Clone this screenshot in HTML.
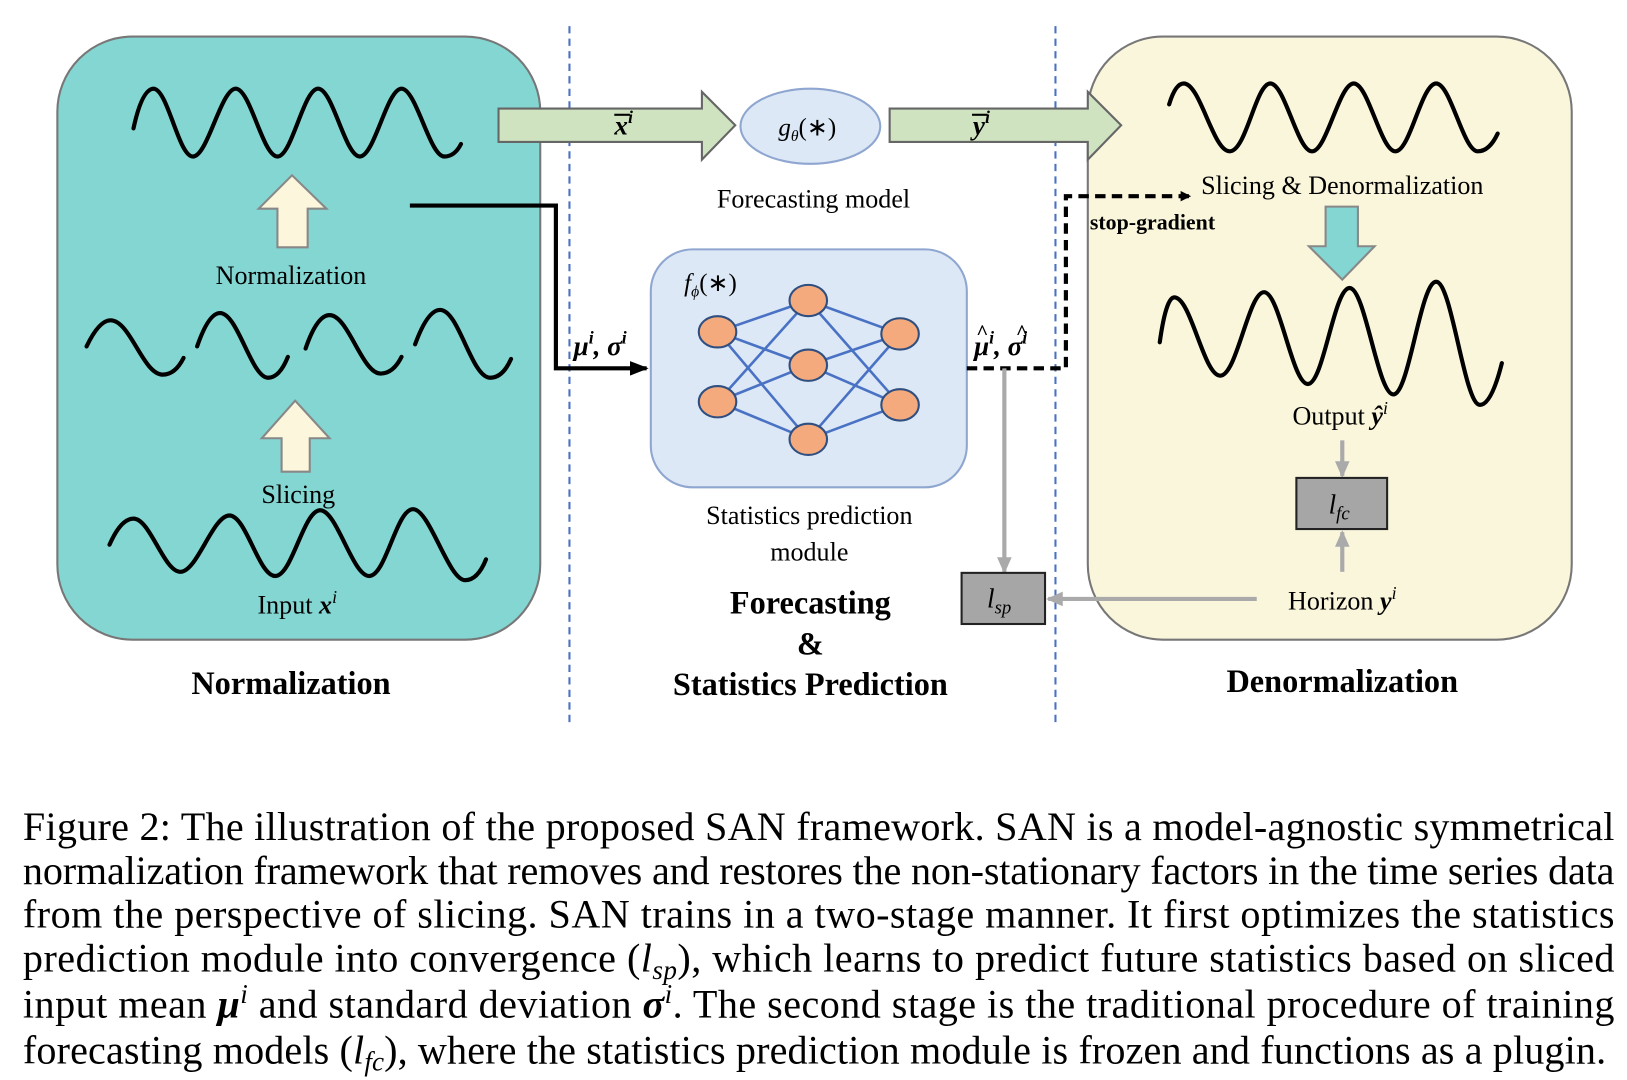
<!DOCTYPE html>
<html><head><meta charset="utf-8"><style>
html,body{margin:0;padding:0;background:#fff;}
svg{display:block;}
text{font-family:"Liberation Serif",serif;}
</style></head><body>
<svg width="1627" height="1080" viewBox="0 0 1560 1035" preserveAspectRatio="none" xmlns="http://www.w3.org/2000/svg">
<defs>
<marker id="ab" markerWidth="10" markerHeight="10" refX="8" refY="5" orient="auto" markerUnits="userSpaceOnUse"><path d="M0,0 L10,5 L0,10 z" fill="#000"/></marker>
<marker id="ag" markerWidth="16" markerHeight="14" refX="14" refY="7" orient="auto" markerUnits="userSpaceOnUse"><path d="M0,0 L16,7 L0,14 z" fill="#aaa"/></marker>
<marker id="ak" markerWidth="18" markerHeight="14" refX="16" refY="7" orient="auto" markerUnits="userSpaceOnUse"><path d="M0,0 L18,7 L0,14 z" fill="#000"/></marker>
</defs>
<rect x="55" y="35" width="463" height="578" rx="72" fill="#84d6d2" stroke="#777" stroke-width="2"/>
<rect x="1043" y="35" width="464" height="578" rx="72" fill="#faf6dc" stroke="#777" stroke-width="2"/>
<line x1="546" y1="25" x2="546" y2="692" stroke="#4a72c4" stroke-width="2" stroke-dasharray="7,5"/>
<line x1="1012" y1="25" x2="1012" y2="692" stroke="#4a72c4" stroke-width="2" stroke-dasharray="7,5"/>

<g fill="none" stroke="#000" stroke-width="4" stroke-linecap="round">
<path d="M128,123 Q136,86 147,85 C161,85 171,150 185,150 S212,85 226,85 S252,150 266,150 S291,85 305,85 S331,150 345,150 S371,85 385,85 S412,150 426,150 Q436,150 442,138"/>
<path d="M83,332 Q95,307 106,307 C125,307 137,359 156,359 Q168,359 176,343"/>
<path d="M189,332 Q200,300 211,300 C228,300 241,362 257,362 Q268,362 276,342"/>
<path d="M293,334 Q304,302 316,302 C334,302 347,358 365,358 Q377,358 385,342"/>
<path d="M398,330 Q410,297 422,297 C440,297 452,362 470,362 Q482,362 490,344"/>
<path d="M105,522 Q116,497 128,497 C144,497 157,548 173,548 S204,494 220,494 S248,552 264,552 S291,489 307,489 S338,552 354,552 S380,488 396,488 S430,556 446,556 Q458,556 466,536"/>
<path d="M1121,100 Q1127,80 1135,80 C1151,80 1163,145 1179,145 S1204,80 1218,80 S1244,145 1258,145 S1284,80 1298,80 S1324,145 1338,145 S1363,80 1377,80 S1403,145 1417,145 Q1428,145 1436,128"/>
<path d="M1112,328 Q1118,285 1126,285 C1142,285 1154,360 1170,360 S1197,280 1212,280 S1239,368 1254,368 S1279,276 1294,276 S1321,378 1336,378 S1362,270 1377,270 S1404,388 1419,388 Q1430,388 1440,348"/>
</g>

<polygon points="266,237 295,237 295,200 313,200 280,168 248,200 266,200" fill="#fbf6dc" stroke="#888" stroke-width="2"/>
<polygon points="270,452 297,452 297,420 316,420 283,384 251,420 270,420" fill="#fbf6dc" stroke="#888" stroke-width="2"/>
<polygon points="1271,198 1302,198 1302,236 1318,236 1287,268 1255,236 1271,236" fill="#84d6d2" stroke="#888" stroke-width="2"/>

<text x="279" y="272" font-size="25" text-anchor="middle">Normalization</text>
<text x="286" y="482" font-size="25" text-anchor="middle">Slicing</text>
<text x="285" y="588" font-size="25" text-anchor="middle">Input <tspan font-weight="bold" font-style="italic">x</tspan><tspan font-size="17" dy="-10" font-style="italic">i</tspan></text>

<polygon points="478,104 673,104 673,88 705,120 673,153 673,136 478,136" fill="#cfe3c1" stroke="#666" stroke-width="2"/>
<polygon points="853,104 1043,104 1043,88 1075,120 1043,153 1043,136 853,136" fill="#cfe3c1" stroke="#666" stroke-width="2"/>
<text x="598" y="129" font-size="26" font-weight="bold" font-style="italic" text-anchor="middle">x<tspan font-size="17" dy="-11">i</tspan></text>
<line x1="589" y1="110" x2="604" y2="110" stroke="#000" stroke-width="2"/>
<text x="941" y="129" font-size="26" font-weight="bold" font-style="italic" text-anchor="middle">y<tspan font-size="17" dy="-11">i</tspan></text>
<line x1="932" y1="110" x2="947" y2="110" stroke="#000" stroke-width="2"/>

<ellipse cx="777" cy="121" rx="67" ry="36" fill="#dce8f6" stroke="#8fa6d0" stroke-width="2"/>
<text x="774" y="130" font-size="24" font-style="italic" text-anchor="middle">g<tspan font-size="15" dy="5">θ</tspan><tspan dy="-5" font-style="normal">(∗)</tspan></text>
<text x="780" y="199" font-size="25" text-anchor="middle">Forecasting model</text>

<rect x="624" y="239" width="303" height="228" rx="40" fill="#dce8f6" stroke="#8fa6d0" stroke-width="2"/>
<text x="656" y="279" font-size="24" font-style="italic">f<tspan font-size="15" dy="5">ϕ</tspan><tspan dy="-5" font-style="normal">(∗)</tspan></text>
<g stroke="#4a72c4" stroke-width="2.5">
<line x1="688" y1="318" x2="775" y2="288"/><line x1="688" y1="318" x2="775" y2="350"/><line x1="688" y1="318" x2="775" y2="421"/>
<line x1="688" y1="385" x2="775" y2="288"/><line x1="688" y1="385" x2="775" y2="350"/><line x1="688" y1="385" x2="775" y2="421"/>
<line x1="775" y1="288" x2="863" y2="320"/><line x1="775" y1="288" x2="863" y2="388"/>
<line x1="775" y1="350" x2="863" y2="320"/><line x1="775" y1="350" x2="863" y2="388"/>
<line x1="775" y1="421" x2="863" y2="320"/><line x1="775" y1="421" x2="863" y2="388"/>
</g>
<g fill="#f4aa7c" stroke="#2f4f80" stroke-width="2">
<ellipse cx="688" cy="318" rx="18" ry="15"/><ellipse cx="688" cy="385" rx="18" ry="15"/>
<ellipse cx="775" cy="288" rx="18" ry="15"/><ellipse cx="775" cy="350" rx="18" ry="15"/><ellipse cx="775" cy="421" rx="18" ry="15"/>
<ellipse cx="863" cy="320" rx="18" ry="15"/><ellipse cx="863" cy="388" rx="18" ry="15"/>
</g>
<text x="776" y="502" font-size="25" text-anchor="middle">Statistics prediction</text>
<text x="776" y="537" font-size="25" text-anchor="middle">module</text>

<polyline points="393,197 533,197 533,353 620,353" fill="none" stroke="#000" stroke-width="4" marker-end="url(#ak)"/>
<text x="550" y="340" font-size="26" font-weight="bold" font-style="italic">μ<tspan font-size="17" dy="-11">i</tspan><tspan dy="11">, σ</tspan><tspan font-size="17" dy="-11">i</tspan></text>
<polyline points="927,353 1022,353 1022,188 1140,188" fill="none" stroke="#000" stroke-width="4" stroke-dasharray="10,6" marker-end="url(#ab)"/>
<text x="934" y="340" font-size="26" font-weight="bold" font-style="italic">μ<tspan font-size="17" dy="-11">i</tspan><tspan dy="11">, σ</tspan><tspan font-size="17" dy="-11">i</tspan></text>
<text x="936" y="325" font-size="20" font-weight="bold">^</text>
<text x="974" y="325" font-size="20" font-weight="bold">^</text>
<text x="1045" y="220" font-size="21" font-weight="bold">stop-gradient</text>
<line x1="963" y1="353" x2="963" y2="548" stroke="#aaa" stroke-width="4" marker-end="url(#ag)"/>
<rect x="922" y="549" width="80" height="49" fill="#a6a6a6" stroke="#222" stroke-width="2"/>
<text x="958" y="582" font-size="26" font-style="italic" text-anchor="middle">l<tspan font-size="18" dy="6">sp</tspan></text>
<line x1="1205" y1="574" x2="1005" y2="574" stroke="#aaa" stroke-width="4" marker-end="url(#ag)"/>

<text x="1287" y="186" font-size="25" text-anchor="middle">Slicing &amp; Denormalization</text>
<text x="1285" y="407" font-size="25" text-anchor="middle">Output <tspan font-weight="bold" font-style="italic">ŷ</tspan><tspan font-size="17" dy="-10" font-style="italic">i</tspan></text>
<line x1="1287" y1="422" x2="1287" y2="456" stroke="#aaa" stroke-width="4" marker-end="url(#ag)"/>
<rect x="1243" y="458" width="87" height="49" fill="#a6a6a6" stroke="#222" stroke-width="2"/>
<text x="1284" y="492" font-size="26" font-style="italic" text-anchor="middle">l<tspan font-size="18" dy="6">fc</tspan></text>
<line x1="1287" y1="548" x2="1287" y2="510" stroke="#aaa" stroke-width="4" marker-end="url(#ag)"/>
<text x="1287" y="584" font-size="25" text-anchor="middle">Horizon <tspan font-weight="bold" font-style="italic">y</tspan><tspan font-size="17" dy="-10" font-style="italic">i</tspan></text>

<g font-size="31" font-weight="bold" text-anchor="middle">
<text x="279" y="665">Normalization</text>
<text x="777" y="588">Forecasting</text>
<text x="777" y="627">&amp;</text>
<text x="777" y="666">Statistics Prediction</text>
<text x="1287" y="663">Denormalization</text>
</g>

<g font-size="38.5">
<text x="22" y="805" textLength="1526" lengthAdjust="spacing">Figure 2: The illustration of the proposed SAN framework. SAN is a model-agnostic symmetrical</text>
<text x="22" y="847" textLength="1526" lengthAdjust="spacing">normalization framework that removes and restores the non-stationary factors in the time series data</text>
<text x="22" y="889" textLength="1526" lengthAdjust="spacing">from the perspective of slicing. SAN trains in a two-stage manner. It first optimizes the statistics</text>
<text x="22" y="931" textLength="1526" lengthAdjust="spacing">prediction module into convergence (<tspan font-style="italic">l</tspan><tspan font-style="italic" font-size="26" dy="7">sp</tspan><tspan dy="-7">), which learns to predict future statistics based on sliced</tspan></text>
<text x="22" y="975" textLength="1526" lengthAdjust="spacing">input mean <tspan font-weight="bold" font-style="italic">μ</tspan><tspan font-style="italic" font-size="26" dy="-14">i</tspan><tspan dy="14"> and standard deviation </tspan><tspan font-weight="bold" font-style="italic">σ</tspan><tspan font-style="italic" font-size="26" dy="-14">i</tspan><tspan dy="14">. The second stage is the traditional procedure of training</tspan></text>
<text x="22" y="1019" textLength="1518" lengthAdjust="spacing">forecasting models (<tspan font-style="italic">l</tspan><tspan font-style="italic" font-size="26" dy="7">fc</tspan><tspan dy="-7">), where the statistics prediction module is frozen and functions as a plugin.</tspan></text>
</g>
</svg>
</body></html>
